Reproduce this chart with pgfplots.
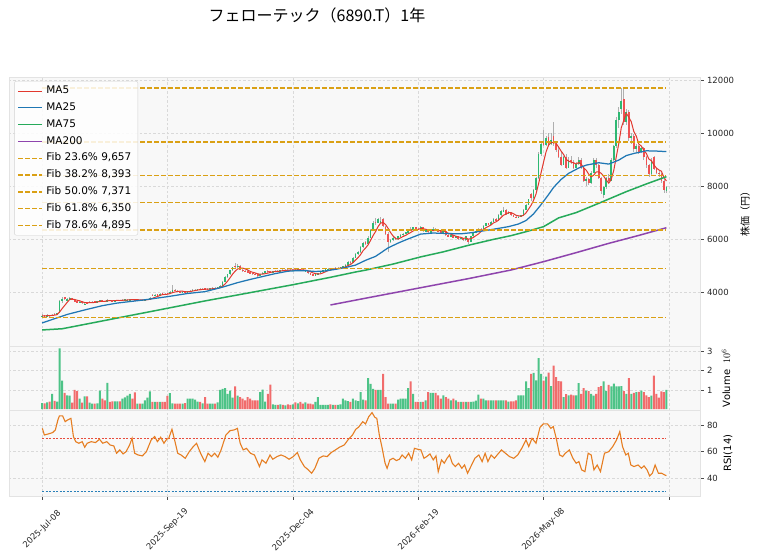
\documentclass[border=0pt]{standalone}
\usepackage{pgfplots}
\pgfplotsset{compat=1.18}
\usepackage{pgfplotstable}
\usepackage{fontspec}
\setmainfont{DejaVu Sans}
\newfontfamily\cjk{Noto Sans CJK JP}
\definecolor{upC}{RGB}{46,184,114}
\definecolor{dnC}{RGB}{238,82,82}
\definecolor{wickC}{RGB}{175,175,175}
\definecolor{ma5C}{RGB}{226,56,46}
\definecolor{ma25C}{RGB}{31,119,180}
\definecolor{ma75C}{RGB}{38,170,90}
\definecolor{ma200C}{RGB}{142,68,173}
\definecolor{fibC}{RGB}{218,160,20}
\definecolor{rsiC}{RGB}{230,126,34}
\definecolor{r70C}{RGB}{231,76,60}
\definecolor{r30C}{RGB}{41,128,185}
\definecolor{bgC}{RGB}{248,248,248}

\pgfplotstableread{
i o h l c v m5
0 3100 3160 3080 3120 0.32 3104
1 3130 3150 3070 3100 0.30 3104
2 3100 3160 3090 3140 0.35 3112
3 3140 3150 3090 3110 0.40 3114
4 3110 3170 3100 3150 0.80 3124
5 3180 3200 3130 3160 0.43 3132
6 3160 3230 3150 3210 0.40 3154
7 3220 3720 3210 3650 3.16 3256
8 3660 3800 3600 3740 1.49 3382
9 3800 3830 3700 3730 0.85 3498
10 3690 3780 3650 3740 0.72 3614
11 3720 3800 3700 3770 0.70 3726
12 3770 3790 3700 3720 0.34 3740
13 3720 3740 3620 3650 1.00 3722
14 3650 3670 3580 3600 0.94 3696
15 3600 3660 3590 3630 0.55 3674
16 3640 3650 3570 3590 0.34 3638
17 3520 3600 3500 3570 0.67 3608
18 3620 3640 3580 3600 0.67 3598
19 3600 3650 3590 3630 0.34 3604
20 3630 3660 3610 3640 0.29 3606
21 3650 3660 3610 3625 0.29 3613
22 3625 3670 3620 3655 0.30 3630
23 3650 3720 3640 3690 0.96 3648
24 3700 3710 3650 3665 0.55 3655
25 3670 3680 3630 3650 0.46 3657
26 3650 3760 3640 3710 1.37 3674
27 3710 3720 3660 3680 0.38 3679
28 3680 3700 3650 3670 0.41 3675
29 3670 3710 3660 3690 0.41 3680
30 3690 3720 3670 3700 0.41 3690
31 3700 3710 3670 3685 0.41 3685
32 3685 3730 3680 3710 0.55 3691
33 3710 3740 3700 3725 0.62 3702
34 3690 3740 3680 3705 0.70 3705
35 3700 3760 3690 3735 0.80 3712
36 3735 3750 3700 3720 0.55 3719
37 3720 3730 3680 3700 0.87 3717
38 3700 3730 3690 3715 0.29 3715
39 3715 3720 3680 3695 0.29 3713
40 3695 3720 3690 3705 0.29 3707
41 3705 3740 3700 3725 0.46 3708
42 3725 3760 3720 3745 0.60 3717
43 3745 3800 3740 3770 0.92 3728
44 3900 3940 3860 3880 0.38 3765
45 3880 3930 3860 3910 0.38 3806
46 3920 3940 3860 3880 0.38 3837
47 3880 3950 3870 3930 0.38 3874
48 3960 3980 3920 3940 0.38 3908
49 3940 3960 3900 3920 0.38 3916
50 3960 3980 3920 3940 0.69 3922
51 3940 4040 3930 4010 0.84 3948
52 4010 4270 4000 4100 0.30 3982
53 4100 4120 4040 4060 0.29 4006
54 4060 4080 4000 4020 0.29 4026
55 4020 4040 3960 3990 0.29 4036
56 3990 4040 3980 4020 0.29 4038
57 4020 4030 3980 4000 0.32 4018
58 3990 4060 3980 4040 0.55 4014
59 4040 4080 4020 4060 0.55 4022
60 4060 4110 4050 4090 0.55 4042
61 4090 4120 4060 4100 0.50 4058
62 4100 4130 4070 4110 0.40 4080
63 4120 4140 4070 4090 0.38 4090
64 4090 4150 4080 4130 0.30 4104
65 4150 4170 4100 4120 0.63 4110
66 4120 4160 4080 4100 0.29 4110
67 4100 4150 4090 4140 0.29 4116
68 4140 4180 4110 4160 0.29 4130
69 4160 4190 4120 4140 0.29 4132
70 4140 4200 4130 4180 0.35 4144
71 4180 4280 4170 4250 1.00 4174
72 4250 4420 4240 4400 1.06 4226
73 4400 4600 4380 4580 1.10 4310
74 4580 4700 4550 4680 0.80 4418
75 4680 4850 4660 4820 0.97 4546
76 4820 4950 4800 4930 0.60 4682
77 5000 5100 4880 4950 1.18 4792
78 4980 5080 4900 5000 0.70 4876
79 5000 5020 4820 4850 0.63 4910
80 4850 4880 4760 4800 0.55 4906
81 4800 4850 4750 4780 0.46 4876
82 4780 4820 4720 4760 0.63 4838
83 4760 4790 4700 4720 0.55 4782
84 4720 4740 4660 4690 0.46 4750
85 4690 4710 4640 4670 0.46 4724
86 4670 4690 4580 4620 0.46 4692
87 4620 4700 4600 4680 0.89 4676
88 4680 4760 4670 4740 1.02 4680
89 4740 4800 4730 4780 0.40 4698
90 4800 4830 4740 4760 0.80 4716
91 4780 4800 4720 4750 1.28 4742
92 4750 4800 4740 4790 0.25 4764
93 4790 4830 4770 4810 0.22 4778
94 4810 4840 4780 4800 0.22 4782
95 4800 4850 4790 4830 0.25 4796
96 4830 4860 4800 4820 0.22 4810
97 4820 4870 4810 4850 0.20 4822
98 4850 4880 4820 4840 0.25 4828
99 4840 4870 4810 4830 0.22 4834
100 4830 4860 4810 4845 0.25 4837
101 4845 4870 4820 4835 0.35 4840
102 4835 4900 4830 4870 0.30 4844
103 4870 4890 4820 4840 0.38 4844
104 4840 4860 4790 4810 0.29 4840
105 4780 4840 4770 4800 0.35 4831
106 4800 4810 4700 4720 0.29 4808
107 4720 4740 4650 4680 0.29 4770
108 4680 4700 4600 4630 0.25 4728
109 4630 4690 4610 4670 0.38 4700
110 4670 4740 4660 4720 0.63 4684
111 4720 4790 4710 4770 0.22 4694
112 4770 4850 4760 4830 0.22 4724
113 4830 4880 4800 4860 0.22 4770
114 4860 4900 4830 4880 0.22 4812
115 4880 4910 4850 4870 0.25 4842
116 4870 4920 4860 4900 0.22 4868
117 4900 4930 4870 4890 0.22 4880
118 4890 4940 4880 4920 0.22 4892
119 4920 4960 4900 4940 0.25 4904
120 4940 5000 4930 4980 0.55 4926
121 4980 5050 4960 5030 0.46 4952
122 5030 5180 5020 5150 0.42 5004
123 5150 5170 5080 5110 0.38 5042
124 5110 5320 5100 5300 0.55 5114
125 5300 5470 5280 5450 0.46 5208
126 5450 5560 5400 5500 0.42 5302
127 5500 5730 5480 5700 0.89 5412
128 5700 5900 5680 5860 0.50 5562
129 5880 5920 5760 5800 0.46 5662
130 5800 6100 5790 6050 1.62 5782
131 6050 6400 6030 6350 1.32 5952
132 6350 6700 6300 6600 1.06 6132
133 6650 6800 6550 6620 1.00 6284
134 6620 6780 6600 6750 1.00 6474
135 6620 6820 6600 6700 1.00 6604
136 6750 6780 6450 6480 1.83 6630
137 6450 6480 6150 6200 0.63 6550
138 6200 6250 5500 5900 0.29 6406
139 5900 6000 5850 5950 0.29 6246
140 5950 6080 5920 6050 0.29 6116
141 6050 6080 5960 6000 0.29 6020
142 6000 6120 5980 6100 0.50 6000
143 6100 6180 6080 6150 0.55 6050
144 6150 6230 6120 6200 0.55 6100
145 6200 6280 6180 6250 0.55 6140
146 6250 6340 6230 6310 1.10 6202
147 6380 6450 6300 6340 1.44 6250
148 6340 6470 6320 6440 0.80 6308
149 6440 6460 6380 6400 0.38 6348
150 6400 6420 6340 6360 0.38 6370
151 6360 6480 6350 6450 0.38 6398
152 6450 6470 6280 6300 0.38 6390
153 6300 6380 6260 6350 0.46 6372
154 6350 6380 6220 6250 0.89 6342
155 6250 6330 6230 6300 0.85 6330
156 6300 6460 6290 6400 0.85 6320
157 6400 6420 6330 6350 0.85 6330
158 6350 6380 6280 6300 0.72 6320
159 6300 6320 6230 6250 0.55 6320
160 6250 6330 6240 6300 0.72 6320
161 6300 6310 6130 6150 0.63 6270
162 6150 6180 6080 6100 0.55 6220
163 6100 6180 6090 6150 0.46 6190
164 6150 6170 6030 6050 0.55 6150
165 6050 6120 6030 6100 0.46 6110
166 6100 6120 5980 6000 0.38 6080
167 6000 6080 5990 6050 0.38 6070
168 6050 6060 5930 5950 0.38 6030
169 5950 6120 5940 6100 0.38 6040
170 6000 6010 5800 5900 0.38 6000
171 5900 6120 5890 6100 0.38 6020
172 6100 6270 6090 6250 0.40 6060
173 6250 6330 6230 6300 0.45 6130
174 6300 6420 6280 6400 0.76 6190
175 6400 6420 6330 6350 0.55 6280
176 6350 6520 6340 6500 0.55 6360
177 6500 6620 6480 6600 0.46 6430
178 6600 6620 6520 6550 0.46 6480
179 6550 6680 6540 6650 0.46 6530
180 6650 6780 6640 6750 0.46 6610
181 6750 6780 6680 6700 0.46 6650
182 6700 6930 6690 6900 0.46 6710
183 6900 7080 6880 7050 0.46 6810
184 7050 7200 7030 7100 0.46 6900
185 7100 7120 6920 6950 0.46 6940
186 6950 7050 6940 7000 0.40 7000
187 7000 7020 6880 6900 0.41 7000
188 6900 6920 6830 6850 0.41 6960
189 6850 6870 6780 6800 0.46 6900
190 6800 6880 6790 6850 0.72 6880
191 6850 6920 6840 6900 0.72 6860
192 6900 7120 6890 7100 0.72 6900
193 7100 7330 7080 7300 1.44 6990
194 7300 7530 7280 7500 1.10 7130
195 7700 7750 7450 7550 1.83 7270
196 7550 7880 7530 7850 1.88 7460
197 7850 8350 7830 8300 1.50 7700
198 8300 9300 8280 9200 2.65 8080
199 9200 9700 9150 9600 1.83 8500
200 9700 10100 9500 9550 1.49 8900
201 9550 9900 9500 9800 1.69 9290
202 9850 10000 9500 9550 1.90 9540
203 9600 10000 9550 9750 1.20 9650
204 9900 10430 9500 9600 2.26 9650
205 9600 9700 9300 9350 1.66 9610
206 9350 9500 9050 9100 1.46 9470
207 9100 9300 8750 8800 1.45 9320
208 8800 9150 8780 9100 0.63 9190
209 9100 9200 8650 8700 0.78 9010
210 8700 9100 8680 9000 0.72 8940
211 9000 9150 8850 8900 0.76 8900
212 8900 9000 8650 8700 0.72 8880
213 8700 8900 8680 8850 0.72 8830
214 8850 9100 8800 9000 1.35 8890
215 9000 9050 8650 8700 0.80 8830
216 8700 8750 8150 8200 1.10 8690
217 8200 8350 8000 8250 0.97 8600
218 8250 8300 8050 8100 0.94 8450
219 8100 8550 8080 8500 0.80 8350
220 8500 9050 8480 9000 0.70 8410
221 9000 9050 8700 8800 0.80 8530
222 8800 8850 8250 8300 1.15 8540
223 8300 8350 7700 7800 1.20 8480
224 7650 8000 7550 7950 1.45 8370
225 7950 8350 7900 8300 0.95 8230
226 8300 8450 8100 8200 1.26 8110
227 8200 9050 8180 9000 1.18 8250
228 9000 9550 8950 9500 1.33 8590
229 9500 10600 9450 10500 1.18 9100
230 10500 11000 10200 10800 1.18 9600
231 10900 11700 10700 11200 1.20 10200
232 11300 11650 10300 10400 0.94 10480
233 10400 10900 10300 10800 0.80 10740
234 10800 10850 9700 9800 1.62 10600
235 9800 10000 9600 9900 0.80 10420
236 9900 9950 9300 9400 0.85 10060
237 9400 9600 9250 9500 0.89 9880
238 9500 9550 9200 9300 0.90 9580
239 9300 9500 9250 9450 0.97 9510
240 9450 9480 9000 9100 0.89 9350
241 9100 9150 8700 8800 0.72 9230
242 8800 8850 8350 8450 0.63 9020
243 8450 9050 8400 9000 0.70 8960
244 9100 9150 8600 8650 1.74 8800
245 8650 8700 8450 8500 0.80 8680
246 8500 8600 8350 8450 0.60 8610
247 8450 8500 8100 8200 0.92 8560
248 8200 8250 7750 7850 0.89 8330
249 7800 8000 7750 7950 1.00 8190
}\candles

\pgfplotstableread{
i r
0.1 77.5
0.9 72.5
2.5 73.3
4.2 74.3
5.3 76.3
6.3 83.8
6.9 86.8
8.2 86.8
9.2 82.5
10.2 83.8
11.5 85
12.5 71.3
13.4 67.5
14.7 66.3
16.0 67.5
17.0 63.3
18.0 66.3
19.6 67.5
21.3 66.8
22.9 69.3
24.2 66.3
25.8 67.5
27.1 65
28.6 64.3
29.7 58.8
31.0 61.3
32.3 58.3
33.5 60
34.9 65
35.9 70
36.9 58.8
38.3 57.5
40.0 56.8
41.6 60
43.5 68.8
44.9 71.3
46.0 67.5
47.3 70.8
48.6 66.3
49.7 69.3
50.5 70
51.8 76.8
53.0 67.5
54.1 58.8
55.4 57.5
57.1 55
58.7 60
60.3 63.8
61.6 66.3
63.2 58.8
64.9 52.5
66.2 58.8
67.6 56.3
68.8 58.8
70.1 55.8
71.4 61.3
73.3 72.5
75.0 75.8
76.6 76.3
77.9 77.5
79.0 66.3
80.2 61.3
81.5 62.5
83.1 58.8
84.7 57.5
86.7 48.8
87.7 53.8
89.3 51.3
90.9 57.5
92.0 54.3
93.7 56.3
95.3 57.5
96.9 56.3
98.5 54.3
100.2 56.3
101.8 59.3
103.0 53.8
104.6 48.8
106.2 46.3
107.5 43.8
108.8 47.5
110.4 55
112.1 56.8
113.7 56.3
115.3 59.3
117.0 61.3
118.6 63.3
120.5 65
122.2 69.3
123.8 72.5
125.1 76.8
126.2 78.3
127.9 82.5
129.0 80.8
130.3 86.3
131.6 89.3
132.7 85.8
133.5 85
134.5 72.5
135.5 63.8
136.8 51.3
137.6 47.5
138.7 53.8
140.0 55
141.3 53.3
142.5 54.3
143.6 57.5
144.9 55
146.2 58.8
147.4 53.8
148.5 62.5
149.8 61.8
151.1 61.3
152.3 55
153.4 56.3
154.7 58.3
156.0 53.8
157.1 56.8
158.0 45
159.3 53.8
160.4 51.3
161.5 55
162.5 57.5
163.6 51.3
164.8 48.8
166.1 51.3
167.4 47.5
168.5 50
169.7 43.8
171.0 48.8
172.6 55
174.2 57.5
175.5 52.5
176.7 58.8
177.8 52.5
179.1 57.5
180.4 55
181.5 57.5
183.2 61.3
184.8 58.8
186.4 56.3
188.1 55
189.7 57.5
191.3 62.5
193.0 68.8
194.1 63.8
195.4 70
197.0 66.3
198.6 78.3
199.9 80.8
201.6 80.8
202.9 77.5
203.9 78.8
205.2 68.8
206.4 57.5
207.6 56.3
208.7 58.8
210.3 61.3
211.7 55
213.0 51.3
214.1 52.5
215.2 46.3
216.5 45
217.8 58.8
219.0 57.5
220.1 46.3
221.4 50
222.7 45
224.3 58.8
226.0 60
227.6 63.8
229.1 68.8
230.4 75
231.5 63.8
232.8 57.5
233.8 58.8
234.8 50
236.1 48.8
237.7 50
239.0 47.5
240.1 49.3
241.3 46.3
242.3 41.8
243.4 43.8
244.5 50
245.8 43.8
247.1 43.8
248.3 42.5
249.0 42.0
}\rsi

\pgfplotsset{
  panel/.style={
    scale only axis, width=691pt, xmin=-13.2, xmax=262.4,
    axis background/.style={fill=bgC},
    axis line style={draw=gray!22},
    xmajorgrids, ymajorgrids,
    major grid style={dash pattern=on 2.5pt off 2pt, gray!30, line width=0.4pt},
    xtick={0,50,100,150,200,250},
    ytick pos=right, yticklabel pos=right,
    tick align=outside, major tick length=3.5pt,
    tick style={black!70, line width=0.5pt},
    /pgf/number format/assume math mode=true,
    /pgf/number format/1000 sep={},
    scaled y ticks=false,
    ticklabel style={font=\fontsize{8.5}{10}\selectfont, text=black!85},
  },
  candleup/.style={x filter/.expression={\thisrow{c}>=\thisrow{o} ? x : nan}},
  candledn/.style={x filter/.expression={\thisrow{c}<\thisrow{o} ? x : nan}},
  fibline/.style={fibC, line width=1.4pt, dash pattern=on 4.5pt off 2.5pt, mark=none},
}

\begin{document}
\begin{tikzpicture}[x=1pt,y=1pt]
\useasboundingbox (0,0) rectangle (758,558);
\node[font=\cjk\fontsize{16}{19}\selectfont] at (317,543) {フェローテック（6890.T）1年};

% ---------- price panel ----------
\begin{axis}[panel, at={(9pt,212pt)}, anchor=south west, height=269pt,
  ymin=1970, ymax=12113, ytick={4000,6000,8000,10000,12000},
  xticklabels={}, xtick style={draw=none},
  ylabel={株価（円）},
  every axis y label/.style={at={(rel axis cs:1,0.5)}, xshift=45pt, rotate=90, anchor=center, font=\cjk\fontsize{10}{12}\selectfont},
  legend cell align=left,
  legend image code/.code={\draw[#1] (0pt,0pt) -- (24pt,0pt);},
  legend style={at={(rel axis cs:0.0075,0.985)}, anchor=north west,
    fill=white, fill opacity=0.85, text opacity=1, draw=gray!35, draw opacity=1,
    rounded corners=2pt, font=\fontsize{10.5}{12}\selectfont,
    row sep=1.2pt, inner xsep=3pt, inner ysep=2pt,
    nodes={text height=7.6pt, text depth=2.2pt, inner ysep=2.9pt, inner xsep=3.5pt}},
]
% wicks
\addplot[forget plot, draw=none, mark=none,
  error bars/.cd, y dir=both, y explicit, error mark=none,
  error bar style={line width=0.7pt, wickC}]
  table[x=i, y expr={(\thisrow{h}+\thisrow{l})/2}, y error expr={(\thisrow{h}-\thisrow{l})/2}] {\candles};
% bodies up
\addplot[forget plot, draw=none, mark=none, candleup,
  error bars/.cd, y dir=both, y explicit, error mark=none,
  error bar style={line width=1.7pt, upC}]
  table[x=i, y expr={(\thisrow{o}+\thisrow{c})/2}, y error expr={abs(\thisrow{c}-\thisrow{o})/2}] {\candles};
% bodies down
\addplot[forget plot, draw=none, mark=none, candledn,
  error bars/.cd, y dir=both, y explicit, error mark=none,
  error bar style={line width=1.7pt, dnC}]
  table[x=i, y expr={(\thisrow{o}+\thisrow{c})/2}, y error expr={abs(\thisrow{c}-\thisrow{o})/2}] {\candles};

\addplot[ma5C, line width=1pt, mark=none] table[x=i, y=m5] {\candles};
\addlegendentry{MA5}
\addplot[ma25C, line width=1.25pt, mark=none] coordinates {
(0,2840) (5,3000) (10,3160) (17,3330) (24,3490) (30,3590) (40,3700) (50,3830) (58,3950) (65,4020)
(72,4190) (78,4360) (83,4480) (88,4590) (93,4700) (98,4790) (102,4810) (105,4810) (109,4780) (113,4800)
(117,4860) (121,4930) (125,5020) (129,5200) (133,5350) (138,5670) (142,5850) (145,5970) (151,6190) (156,6230)
(162,6210) (167,6200) (171,6240) (178,6340) (186,6470) (190,6570) (193,6700) (196,6950) (199,7300) (202,7680)
(204,7950) (207,8250) (210,8480) (214,8680) (217,8790) (222,8880) (226,8830) (230,8980) (233,9150) (236,9230)
(241,9330) (245,9320) (249,9300)};
\addlegendentry{MA25}
\addplot[ma75C, line width=1.5pt, mark=none] coordinates {
(0,2575) (8,2620) (20,2840) (30,3025) (45,3300) (65,3670) (80,3930) (100,4280) (115,4560) (125,4760)
(129,4830) (140,5060) (151,5330) (160,5520) (171,5790) (180,5990) (187,6130) (193,6280) (200,6470) (206,6800)
(213,7000) (222,7350) (233,7790) (241,8080) (249,8355)};
\addlegendentry{MA75}
\addplot[ma200C, line width=1.5pt, mark=none] coordinates {
(115,3517) (130,3790) (150,4150) (170,4510) (187,4835) (200,5150) (213,5490) (226,5840) (238,6140) (249,6430)};
\addlegendentry{MA200}
\addplot[fibline] coordinates {(0,9657) (249,9657)};
\addlegendentry{Fib 23.6\% 9,657}
\addplot[fibline] coordinates {(0,8393) (249,8393)};
\addlegendentry{Fib 38.2\% 8,393}
\addplot[fibline] coordinates {(0,7371) (249,7371)};
\addlegendentry{Fib 50.0\% 7,371}
\addplot[fibline] coordinates {(0,6350) (249,6350)};
\addlegendentry{Fib 61.8\% 6,350}
\addplot[fibline] coordinates {(0,4895) (249,4895)};
\addlegendentry{Fib 78.6\% 4,895}
\addplot[forget plot, fibline] coordinates {(0,11700) (249,11700)};
\addplot[forget plot, fibline] coordinates {(0,3042) (249,3042)};
\end{axis}

% ---------- volume panel ----------
\begin{axis}[panel, at={(9pt,148pt)}, anchor=south west, height=64pt,
  ymin=-0.04, ymax=3.28, ytick={1,2,3},
  xticklabels={}, xtick style={draw=none},
  ylabel={Volume~~$10^{6}$},
  every axis y label/.style={at={(rel axis cs:1,0.5)}, xshift=26pt, rotate=90, anchor=center, font=\fontsize{10}{12}\selectfont},
]
\addplot[ybar, bar width=2pt, bar shift=0pt, fill=upC!85!white, draw=none, candleup] table[x=i, y=v] {\candles};
\addplot[ybar, bar width=2pt, bar shift=0pt, fill=dnC!85!white, draw=none, candledn] table[x=i, y=v] {\candles};
\end{axis}

% ---------- RSI panel ----------
\begin{axis}[panel, at={(9pt,62pt)}, anchor=south west, height=86pt,
  ymin=26.7, ymax=91.25, ytick={40,60,80},
  xtick pos=bottom,
  xticklabels={2025-Jul-08,2025-Sep-19,2025-Dec-04,2026-Feb-19,2026-May-08,{}},
  xticklabel style={yshift=-30pt, rotate=45, anchor=center, font=\fontsize{8.5}{10}\selectfont},
  ylabel={RSI(14)},
  every axis y label/.style={at={(rel axis cs:1,0.5)}, xshift=28pt, rotate=90, anchor=center, font=\fontsize{10}{12}\selectfont},
]
\addplot[r70C, line width=0.7pt, dash pattern=on 2pt off 1.5pt, mark=none] coordinates {(0,70) (249,70)};
\addplot[r30C, line width=0.8pt, dash pattern=on 2pt off 1.5pt, mark=none] coordinates {(0,30) (249,30)};
\addplot[rsiC, line width=1.1pt, mark=none] table[x=i, y=r] {\rsi};
\end{axis}
\end{tikzpicture}
\end{document}
